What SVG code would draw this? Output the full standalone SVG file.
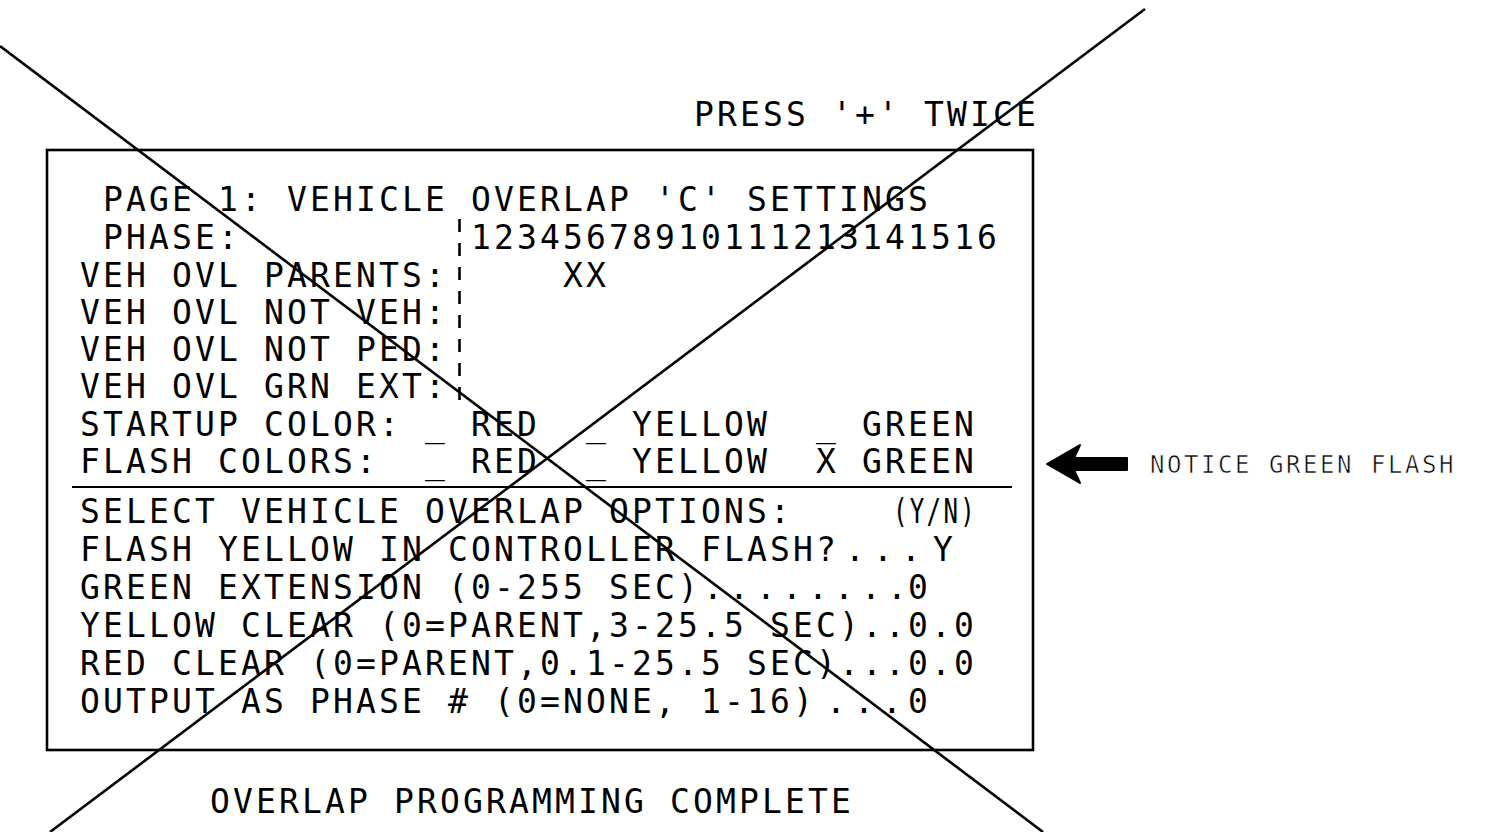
<svg xmlns="http://www.w3.org/2000/svg" width="1504" height="832" viewBox="0 0 1504 832" xml:space="preserve">
<style>
text{font-family:"DejaVu Sans Mono","Liberation Mono",monospace;font-size:33px;letter-spacing:3.13px;fill:#000;white-space:pre}
.note{font-size:24px;letter-spacing:2.55px;stroke:#fff;stroke-width:0.6px}
.ln{stroke:#000;fill:none}
</style>
<rect width="1504" height="832" fill="#fff"/>
<g id="screen">
<rect x="47" y="150" width="986" height="600" class="ln" stroke-width="2.6"/>
<line x1="72" y1="487" x2="1012" y2="487" class="ln" stroke-width="2"/>
<line x1="459.5" y1="219" x2="459.5" y2="400" class="ln" stroke-width="2.6" stroke-dasharray="13 11"/>
<text x="80" y="211"> PAGE 1: VEHICLE OVERLAP 'C' SETTINGS</text>
<text x="80" y="249"> PHASE:</text>
<text x="471" y="249">12345678910111213141516</text>
<text x="80" y="287">VEH OVL PARENTS:</text>
<text x="563" y="287">XX</text>
<text x="80" y="324">VEH OVL NOT VEH:</text>
<text x="80" y="361">VEH OVL NOT PED:</text>
<text x="80" y="398">VEH OVL GRN EXT:</text>
<text x="80" y="436">STARTUP COLOR: _ RED  _ YELLOW  _ GREEN</text>
<text x="80" y="473">FLASH COLORS:  _ RED  _ YELLOW  X GREEN</text>
<text x="80" y="523">SELECT VEHICLE OVERLAP OPTIONS:</text>
<text x="893" y="523" textLength="84" lengthAdjust="spacingAndGlyphs">(Y/N)</text>
<text x="80" y="561">FLASH YELLOW IN CONTROLLER FLASH?<tspan x="845 873 901 933">...Y</tspan></text>
<text x="80" y="599">GREEN EXTENSION (0-255 SEC)<tspan x="703 729 756 782 808 834 861 887 908">........0</tspan></text>
<text x="80" y="637">YELLOW CLEAR (0=PARENT,3-25.5 SEC)..0.0</text>
<text x="80" y="675">RED CLEAR (0=PARENT,0.1-25.5 SEC)...0.0</text>
<text x="80" y="713">OUTPUT AS PHASE # (0=NONE, 1-16)<tspan x="826 854 882 908">...0</tspan></text>
</g>
<g id="press">
<text x="694" y="126">PRESS '+' TWICE</text>
</g>
<g id="complete">
<text x="210" y="813">OVERLAP PROGRAMMING COMPLETE</text>
</g>
<g id="notice">
<polygon points="1047,464 1080,445 1074,458 1127,458 1127,470 1074,470 1080,483" fill="#000" stroke="#000" stroke-width="2" stroke-linejoin="round"/>
<text class="note" x="1150" y="473">NOTICE GREEN FLASH</text>
</g>
<g id="cross">
<line x1="0" y1="46" x2="1043" y2="832" class="ln" stroke-width="2.6"/>
<line x1="1145" y1="9" x2="50" y2="832" class="ln" stroke-width="2.6"/>
</g>
</svg>
